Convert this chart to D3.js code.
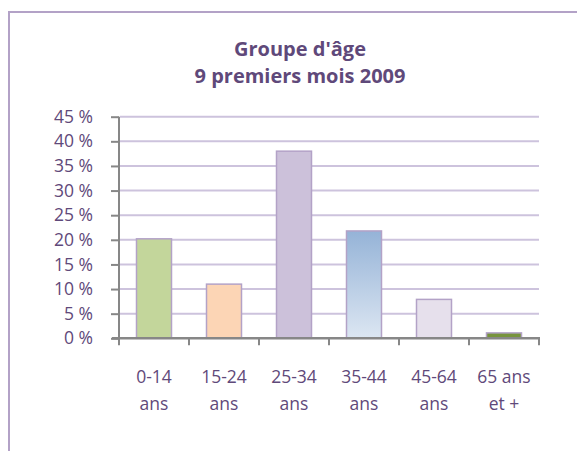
<!DOCTYPE html>
<html><head><meta charset="utf-8">
<script src="https://cdn.jsdelivr.net/npm/d3@7"></script>
<style>html,body{margin:0;padding:0;background:#fff;}svg{display:block;}</style>
</head><body>
<script>
const categories = [["0-14","ans"],["15-24","ans"],["25-34","ans"],["35-44","ans"],["45-64","ans"],["65 ans","et +"]];
const values = [20.2, 11.0, 38.0, 21.8, 7.9, 1.1];
const yTicks = [0,5,10,15,20,25,30,35,40,45];
const titleLines = ["Groupe d'âge", "9 premiers mois 2009"];
const fills = ["#c3d69b","#fcd5b5","#ccc1da","url(#g4)","#e6e0ec","#77933c"];

const W=577,H=451;
const svg=d3.select("body").append("svg").attr("width",W).attr("height",H);
const defs=svg.append("defs");
const g4=defs.append("linearGradient").attr("id","g4").attr("x1",0).attr("y1",0).attr("x2",0).attr("y2",1);
g4.append("stop").attr("offset","0%").attr("stop-color","#95b3d7");
g4.append("stop").attr("offset","100%").attr("stop-color","#dce6f2");

const font="'Open Sans', 'DejaVu Sans', sans-serif";
const txt="#5f497a";

// frame
svg.append("rect").attr("x",9).attr("y",12).attr("width",W+20).attr("height",H+20)
  .attr("fill","#fff").attr("stroke","#b3a2c7").attr("stroke-width",2);

// title
svg.append("text").attr("x",300).attr("y",56).attr("text-anchor","middle")
  .attr("font-family",font).attr("font-weight","bold").attr("font-size",20).attr("fill",txt)
  .selectAll("tspan").data(titleLines).join("tspan").attr("x",300).attr("dy",(d,i)=>i?27:0).text(d=>d);

const x=d3.scaleBand().domain(d3.range(categories.length)).range([119,539]).padding(0);
const y=d3.scaleLinear().domain([0,45]).range([338.3,116.7]);
const bw=x.bandwidth()*0.5;

// gridlines
svg.append("g").selectAll("line").data(yTicks.filter(t=>t>0)).join("line")
  .attr("x1",120).attr("x2",539).attr("y1",d=>y(d)).attr("y2",d=>y(d))
  .attr("stroke","#cdc3dd").attr("stroke-width",2);

// bars
svg.append("g").selectAll("rect").data(values).join("rect")
  .attr("x",(d,i)=>x(i)+(x.bandwidth()-bw)/2).attr("width",bw)
  .attr("y",d=>y(d)).attr("height",d=>y(0)-y(d))
  .attr("fill",(d,i)=>fills[i]).attr("stroke","#b3a2c7").attr("stroke-width",1.5);

// y axis
const ya=svg.append("g").attr("transform","translate(119,0)")
  .call(d3.axisLeft(y).tickValues(yTicks).tickSize(8).tickPadding(18).tickFormat(d=>d+" %"));
ya.select(".domain").attr("stroke","#878787").attr("stroke-width",2).attr("d","M0,"+y(45)+"V"+y(0));
ya.selectAll(".tick line").attr("stroke","#878787").attr("stroke-width",2);
ya.selectAll("text").attr("font-family",font).attr("font-size",17.5).attr("fill",txt);

// x axis
const xa=svg.append("g");
xa.append("line").attr("x1",112).attr("x2",540).attr("y1",y(0)).attr("y2",y(0)).attr("stroke","#878787").attr("stroke-width",2.5);
const bounds=d3.range(categories.length+1).map(i=>i<categories.length?x(i):x(categories.length-1)+x.bandwidth());
xa.selectAll(".xt").data(bounds).join("line").attr("class","xt")
  .attr("x1",d=>d).attr("x2",d=>d).attr("y1",y(0)).attr("y2",y(0)+7)
  .attr("stroke","#878787").attr("stroke-width",2);
const lab=xa.selectAll(".xl").data(categories).join("text").attr("class","xl")
  .attr("text-anchor","middle").attr("font-family",font).attr("font-size",17.5).attr("fill",txt)
  .attr("y",383);
lab.selectAll("tspan").data((d,i)=>d.map(s=>({s,i}))).join("tspan")
  .attr("x",d=>x(d.i)+x.bandwidth()/2).attr("dy",(d,j)=>j?27:0).text(d=>d.s);
</script>
</body></html>
